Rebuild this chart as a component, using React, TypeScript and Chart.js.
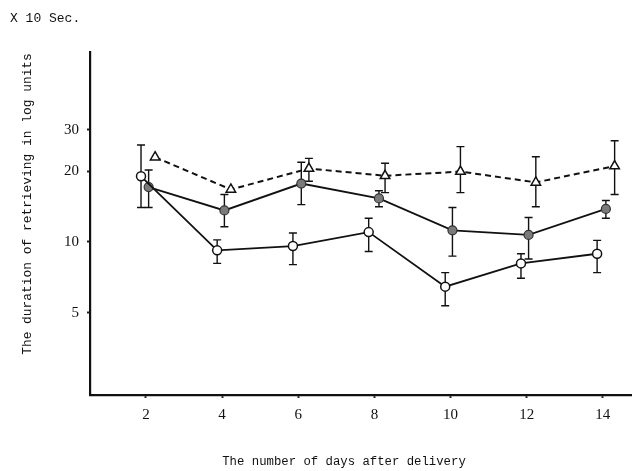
import React, { useEffect, useRef } from "react";
import { Chart, registerables } from "chart.js";

Chart.register(...registerables);

const yTicks = [5, 10, 20, 30];
const xTicks = [2, 4, 6, 8, 10, 12, 14];

// open circles
const openDays = [1.87, 3.87, 5.86, 7.85, 9.86, 11.85, 13.85];
const openMean = [19.0, 9.2, 9.6, 11.0, 6.45, 8.1, 8.9];
const openHigh = [25.8, 10.2, 10.9, 12.6, 7.4, 8.9, 10.15];
const openLow = [14.0, 8.1, 8.0, 9.1, 5.35, 7.0, 7.4];

// filled (grey) circles
const filledDays = [2.07, 4.06, 6.08, 8.12, 10.05, 12.05, 14.08];
const filledMean = [17.1, 13.6, 17.7, 15.3, 11.2, 10.7, 13.8];
const filledHigh = [20.2, 15.9, 21.8, 16.5, 14.0, 12.7, 15.0];
const filledLow = [14.0, 11.6, 14.4, 14.1, 8.7, 8.45, 12.6];

// open triangles (dashed)
const triDays = [2.24, 4.23, 6.28, 8.28, 10.26, 12.24, 14.31];
const triMean = [22.9, 16.7, 20.5, 19.1, 19.9, 17.9, 21.0];
const triHigh: (number | null)[] = [null, null, 22.65, 21.6, 25.4, 23.0, 26.9];
const triLow: (number | null)[] = [null, null, 18.1, 16.2, 16.2, 14.1, 15.9];

const unitLabel = "X 10 Sec.";
const yTitle = "The duration of retrieving in log units";
const xTitle = "The number of days after delivery";

const pts = (xs: number[], ys: number[]) => xs.map((x, i) => ({ x, y: ys[i] }));

const errorBars = [
  { days: openDays, high: openHigh, low: openLow },
  { days: filledDays, high: filledHigh, low: filledLow },
  { days: triDays, high: triHigh, low: triLow },
];

const errorBarPlugin = {
  id: "errorBars",
  beforeDatasetsDraw(chart: any) {
    const { ctx, scales } = chart;
    const xs = scales.x;
    const ys = scales.y;
    ctx.save();
    ctx.strokeStyle = "#111";
    ctx.lineWidth = 1.4;
    errorBars.forEach((s) => {
      s.days.forEach((d, i) => {
        const hi = s.high[i];
        const lo = s.low[i];
        if (hi == null || lo == null) return;
        const px = xs.getPixelForValue(d);
        const yh = ys.getPixelForValue(hi);
        const yl = ys.getPixelForValue(lo);
        ctx.beginPath();
        ctx.moveTo(px, yh);
        ctx.lineTo(px, yl);
        ctx.moveTo(px - 4, yh);
        ctx.lineTo(px + 4, yh);
        ctx.moveTo(px - 4, yl);
        ctx.lineTo(px + 4, yl);
        ctx.stroke();
      });
    });
    ctx.restore();
  },
};

const textPlugin = {
  id: "texts",
  afterDraw(chart: any) {
    const { ctx } = chart;
    ctx.save();
    ctx.fillStyle = "#111";
    ctx.font = '13px "Liberation Mono", monospace';
    ctx.textBaseline = "middle";
    ctx.textAlign = "left";
    ctx.fillText(unitLabel, 10, 19);
    ctx.font = '12.3px "Liberation Mono", monospace';
    ctx.textAlign = "center";
    ctx.fillText(xTitle, 344, 462);
    ctx.translate(28, 204);
    ctx.rotate(-Math.PI / 2);
    ctx.font = '12.9px "Liberation Mono", monospace';
    ctx.fillText(yTitle, 0, 0);
    ctx.restore();
  },
};

export default function App() {
  const ref = useRef<HTMLCanvasElement>(null);
  useEffect(() => {
    if (!ref.current) return;
    const chart = new Chart(ref.current, {
      type: "line",
      data: {
        datasets: [
          {
            data: pts(openDays, openMean),
            borderColor: "#111",
            borderWidth: 1.8,
            pointStyle: "circle",
            pointRadius: 4.5,
            pointBackgroundColor: "#fff",
            pointBorderColor: "#111",
            pointBorderWidth: 1.5,
            order: 1,
          },
          {
            data: pts(filledDays, filledMean),
            borderColor: "#111",
            borderWidth: 1.8,
            pointStyle: "circle",
            pointRadius: 4.5,
            pointBackgroundColor: "#7a7a7a",
            pointBorderColor: "#333",
            pointBorderWidth: 1.2,
            order: 2,
          },
          {
            data: pts(triDays, triMean),
            borderColor: "#111",
            borderWidth: 2,
            borderDash: [6, 4],
            pointStyle: "triangle",
            pointRadius: 5.5,
            pointBackgroundColor: "#fff",
            pointBorderColor: "#111",
            pointBorderWidth: 1.5,
            order: 3,
          },
        ],
      },
      options: {
        responsive: false,
        animation: false,
        layout: { padding: { top: 52, right: -6, left: 0, bottom: 0 } },
        plugins: { legend: { display: false }, tooltip: { enabled: false } },
        scales: {
          x: {
            type: "linear",
            min: 0.53,
            max: 14.74,
            afterBuildTicks: (s: any) => {
              s.ticks = xTicks.map((v) => ({ value: v }));
            },
            afterFit: (s: any) => {
              s.height = 76;
              s.paddingRight = 0;
              s.paddingLeft = 0;
            },
            grid: {
              drawOnChartArea: false,
              drawTicks: true,
              tickLength: 3,
              tickWidth: 2,
              tickColor: "#222",
            },
            border: { display: true, color: "#111", width: 2.2 },
            ticks: {
              color: "#111",
              padding: 8,
              font: { family: '"Liberation Serif", serif', size: 15 },
              maxRotation: 0,
            },
          },
          y: {
            type: "logarithmic",
            min: 2.233,
            max: 64.15,
            afterBuildTicks: (s: any) => {
              s.ticks = yTicks.map((v) => ({ value: v }));
            },
            afterFit: (s: any) => {
              s.width = 90;
            },
            grid: {
              drawOnChartArea: false,
              drawTicks: true,
              tickLength: 3,
              tickWidth: 2,
              tickColor: "#222",
            },
            border: { display: true, color: "#111", width: 2.2 },
            ticks: {
              color: "#111",
              padding: 8,
              font: { family: '"Liberation Serif", serif', size: 15 },
              callback: (v: any) => String(v),
            },
          },
        },
      },
      plugins: [errorBarPlugin, textPlugin],
    });
    return () => chart.destroy();
  }, []);
  return (
    <div style={{ position: "fixed", left: 0, top: 0, width: 638, height: 471, background: "#fff" }}>
      <canvas ref={ref} width={638} height={471} />
    </div>
  );
}
